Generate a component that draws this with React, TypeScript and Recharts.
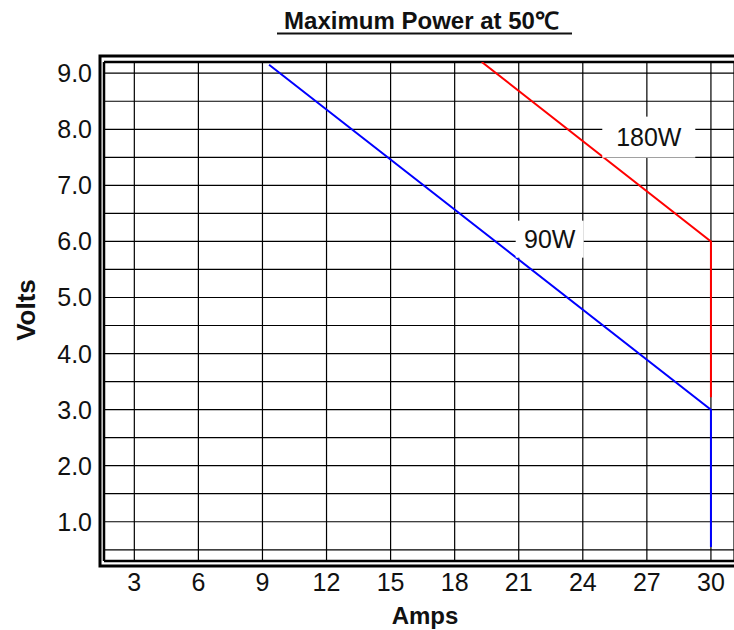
import React from 'react';
import {
  ComposedChart,
  Line,
  Scatter,
  XAxis,
  YAxis,
  CartesianGrid,
  ReferenceLine,
} from 'recharts';

// ---- data ----
const ampTicks = [3, 6, 9, 12, 15, 18, 21, 24, 27, 30];
const voltTicks = [0.5, 1, 1.5, 2, 2.5, 3, 3.5, 4, 4.5, 5, 5.5, 6, 6.5, 7, 7.5, 8, 8.5, 9];

const series90W = [
  { a: 9.31, v: 9.15 },
  { a: 30, v: 3.0 },
  { a: 30, v: 0.55 },
];

const series180W = [
  { a: 19.27, v: 9.2 },
  { a: 30, v: 6.0 },
  { a: 30, v: 3.22 },
];

const seriesLabels = [
  { a: 27.09, v: 7.86, text: '180W' },
  { a: 22.45, v: 6.04, text: '90W' },
];

// ---- layout / style constants ----
const W = 734;
const H = 630;
const X_DOMAIN: [number, number] = [1.58, 31.08];
const Y_DOMAIN: [number, number] = [0.3, 9.2];
const FONT = '"Liberation Sans", Arial, sans-serif';
const TICK_FS = 25;
const labelBoxes: Record<string, { w: number; h: number }> = {
  '180W': { w: 93, h: 41 },
  '90W': { w: 68, h: 37 },
};

const LabelShape = (props: any) => {
  const { cx, cy, payload } = props;
  if (cx == null || cy == null) return null;
  const box = labelBoxes[payload.text] || { w: 70, h: 36 };
  const fs = 25;
  return (
    <g>
      <rect x={cx - box.w / 2} y={cy - box.h / 2} width={box.w} height={box.h} fill="#fff" />
      <text
        x={cx}
        y={cy + fs * 0.358}
        textAnchor="middle"
        fontFamily={FONT}
        fontSize={fs}
        fill="#111"
      >
        {payload.text}
      </text>
    </g>
  );
};

const XTick = (props: any) => {
  const { x, y, payload } = props;
  return (
    <text
      x={x}
      y={y + TICK_FS * 0.716}
      textAnchor="middle"
      fontFamily={FONT}
      fontSize={TICK_FS}
      fill="#111"
    >
      {payload.value}
    </text>
  );
};

const YTick = (props: any) => {
  const { x, y, payload } = props;
  const v = payload.value as number;
  if (Math.abs(v % 1) > 1e-9) return <g />;
  return (
    <text
      x={x}
      y={y + TICK_FS * 0.358}
      textAnchor="end"
      fontFamily={FONT}
      fontSize={TICK_FS}
      fill="#111"
    >
      {v.toFixed(1)}
    </text>
  );
};

export default function App() {
  return (
    <div style={{ position: 'absolute', left: 0, top: 0, width: W, height: H, background: '#fff' }}>
      <ComposedChart
        width={W}
        height={H}
        margin={{ top: 62, right: 0, bottom: 0, left: 0 }}
      >
        <CartesianGrid stroke="#000" strokeWidth={1.2} />
        <XAxis
          type="number"
          dataKey="a"
          domain={X_DOMAIN}
          ticks={ampTicks}
          allowDataOverflow
          height={69}
          axisLine={false}
          tickLine={false}
          tickSize={0}
          tickMargin={12}
          interval={0}
          tick={XTick}
        />
        <YAxis
          type="number"
          domain={Y_DOMAIN}
          ticks={voltTicks}
          allowDataOverflow
          width={104}
          axisLine={false}
          tickLine={false}
          tickSize={0}
          tickMargin={12}
          interval={0}
          tick={YTick}
        />
        <ReferenceLine x={X_DOMAIN[0]} stroke="#000" strokeWidth={2.5} />
        <ReferenceLine y={Y_DOMAIN[1]} stroke="#000" strokeWidth={2.4} />
        <ReferenceLine y={Y_DOMAIN[0]} stroke="#000" strokeWidth={2.6} />
        <Line
          data={series180W}
          dataKey="v"
          stroke="#ff0000"
          strokeWidth={2}
          dot={false}
          activeDot={false}
          isAnimationActive={false}
        />
        <Line
          data={series90W}
          dataKey="v"
          stroke="#0000ff"
          strokeWidth={2}
          dot={false}
          activeDot={false}
          isAnimationActive={false}
        />
        <Scatter
          data={seriesLabels}
          dataKey="v"
          shape={LabelShape}
          isAnimationActive={false}
        />
      </ComposedChart>
      <svg
        width={W}
        height={H}
        style={{ position: 'absolute', left: 0, top: 0, pointerEvents: 'none' }}
      >
        <path d="M 736 56 L 100 56 L 100 566 L 736 566" fill="none" stroke="#000" strokeWidth={3} />
        <text
          x={421.5}
          y={28.5}
          textAnchor="middle"
          fontFamily={FONT}
          fontWeight="bold"
          fontSize={24}
          fill="#111"
        >
          Maximum Power at 50℃
        </text>
        <line x1={277} y1={33.5} x2={572} y2={33.5} stroke="#111" strokeWidth={2} />
        <text
          x={425}
          y={624.3}
          textAnchor="middle"
          fontFamily={FONT}
          fontWeight="bold"
          fontSize={24}
          fill="#111"
        >
          Amps
        </text>
        <text
          x={35}
          y={310}
          transform="rotate(-90 35 310)"
          textAnchor="middle"
          fontFamily={FONT}
          fontWeight="bold"
          fontSize={26}
          fill="#111"
        >
          Volts
        </text>
      </svg>
    </div>
  );
}
